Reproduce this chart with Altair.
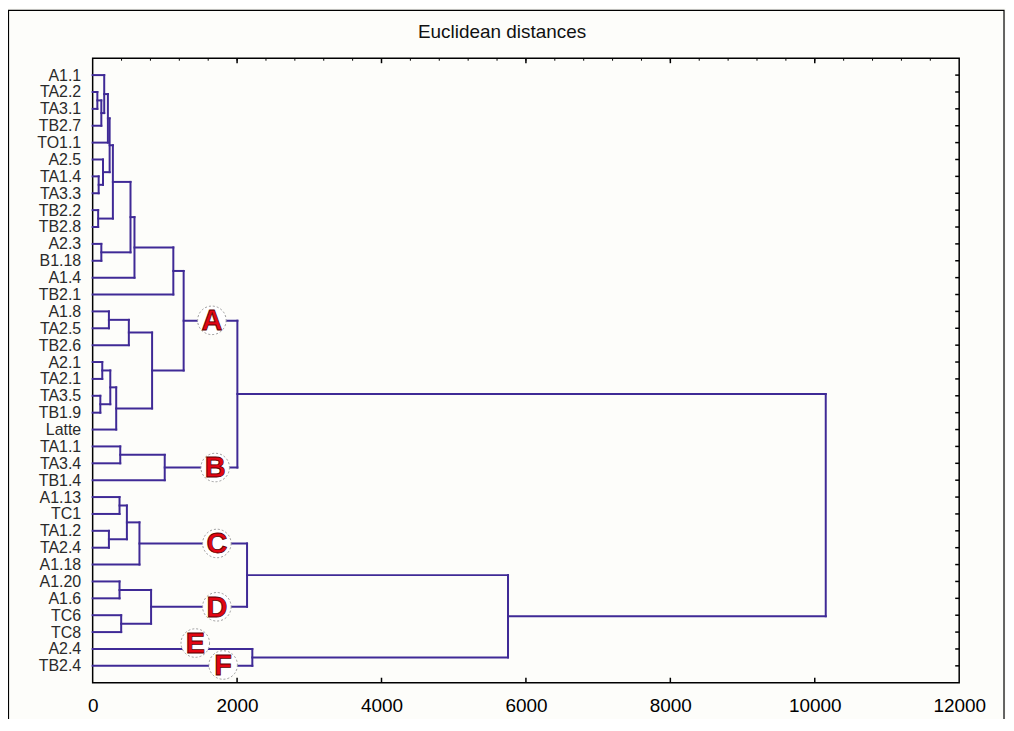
import altair as alt
import pandas as pd

# ---------------- data ----------------
leaves = ["A1.1", "TA2.2", "TA3.1", "TB2.7", "TO1.1", "A2.5", "TA1.4", "TA3.3",
          "TB2.2", "TB2.8", "A2.3", "B1.18", "A1.4", "TB2.1", "A1.8", "TA2.5",
          "TB2.6", "A2.1", "TA2.1", "TA3.5", "TB1.9", "Latte", "TA1.1", "TA3.4",
          "TB1.4", "A1.13", "TC1", "TA1.2", "TA2.4", "A1.18", "A1.20", "A1.6",
          "TC6", "TC8", "A2.4", "TB2.4"]

# merges: (left child, right child, linkage distance); "mK" = K-th merge
merge_left = ["TA2.2", "m0", "A1.1", "m2", "TA1.4", "A2.5", "m3", "TB2.2", "m6",
              "A2.3", "m8", "m10", "m11", "A1.8", "m13", "A2.1", "TA3.5", "m15",
              "m17", "m14", "m12", "TA1.1", "m21", "m20", "A1.13", "TA1.2", "m24",
              "m26", "A1.20", "TC6", "m28", "m27", "A2.4", "m31", "m23"]
merge_right = ["TA3.1", "TB2.7", "m1", "TO1.1", "TA3.3", "m4", "m5", "TB2.8", "m7",
               "B1.18", "m9", "A1.4", "TB2.1", "TA2.5", "TB2.6", "TA2.1", "TB1.9", "m16",
               "Latte", "m18", "m19", "TA3.4", "TB1.4", "m22", "TC1", "TA2.4", "m25",
               "A1.18", "A1.6", "TC8", "m29", "m30", "TB2.4", "m32", "m33"]
merge_height = [65, 120, 160, 211, 83, 143, 235, 76, 280,
                120, 524, 579, 1117, 225, 501, 133, 106, 244,
                326, 823, 1260, 382, 998, 2004, 372, 225, 474,
                648, 372, 395, 809, 2138, 2211, 5752, 10152]

# group labels (letter, distance, leaf-row position)
group_text = ["A", "B", "C", "D", "E", "F"]
group_x = [1651, 1697, 1720, 1720, 1421, 1807]
group_y = [14.53, 23.25, 27.75, 31.5, 33.65, 34.95]

x_ticks = [0, 2000, 4000, 6000, 8000, 10000, 12000]
x_minor = [400 * k for k in range(1, 30)]
title_text = "Euclidean distances"

# ---------------- build dendrogram segments ----------------
pos = {name: (0.0, float(i)) for i, name in enumerate(leaves)}
segs = []
for k, (a, b, h) in enumerate(zip(merge_left, merge_right, merge_height)):
    xa, ya = pos[a]
    xb, yb = pos[b]
    segs.append({"x": xa, "x2": h, "y": ya, "y2": ya})
    segs.append({"x": xb, "x2": h, "y": yb, "y2": yb})
    segs.append({"x": h, "x2": h, "y": ya, "y2": yb})
    pos[f"m{k}"] = (h, (ya + yb) / 2)
seg_df = pd.DataFrame(segs)

lab_df = pd.DataFrame({"t": group_text, "x": group_x, "y": group_y})
minor_df = pd.DataFrame({"x": x_minor})
major_df = pd.DataFrame({"x": x_ticks[1:-1]})
row_df = pd.DataFrame({"y": list(range(len(leaves)))})
one_df = pd.DataFrame({"t": [title_text]})

W, H = 870, 627
LINE = "#3f2a96"
FONT = "Liberation Sans"
BG = "#fdfdfa"

xs = alt.Scale(domain=[0, 12000], nice=False, zero=False)
ys = alt.Scale(domain=[-1, len(leaves)], reverse=True, nice=False, zero=False)
label_expr = "[" + ",".join(f"'{n}'" for n in leaves) + "][datum.value]"

ax_x = alt.Axis(
    values=x_ticks, format="d", title=None, grid=False, domain=False, ticks=False,
    labelFontSize=19, labelFont=FONT, labelColor="#000", labelPadding=14,
    labelFlush=False, labelOverlap=False)
ax_y = alt.Axis(
    values=list(range(len(leaves))), labelExpr=label_expr, title=None, grid=False,
    domain=False, ticks=False, labelFontSize=16, labelFont=FONT,
    labelColor="#2a2a2a", labelPadding=12, labelOverlap=False)

X = alt.X("x:Q", scale=xs, axis=ax_x, title=None)
Y = alt.Y("y:Q", scale=ys, axis=ax_y, title=None)

lines = alt.Chart(seg_df).mark_rule(color=LINE, strokeWidth=2, strokeCap="square").encode(
    x=X, x2="x2:Q", y=Y, y2="y2:Q")

top_minor = alt.Chart(minor_df).mark_rule(color="#000", strokeWidth=1).encode(
    x=X, y=alt.value(0), y2=alt.value(2.5))
top_major = alt.Chart(major_df).mark_rule(color="#000", strokeWidth=1.5).encode(
    x=X, y=alt.value(0), y2=alt.value(5))
bot_major = alt.Chart(major_df).mark_rule(color="#000", strokeWidth=1.5).encode(
    x=X, y=alt.value(H - 5), y2=alt.value(H))
right_ticks = alt.Chart(row_df).mark_rule(color="#000", strokeWidth=1.5).encode(
    y=Y, x=alt.value(W - 4), x2=alt.value(W))

circles = alt.Chart(lab_df).mark_point(
    shape="circle", size=820, filled=True, fill="#ffffff", fillOpacity=1,
    stroke="#999999", strokeWidth=1, strokeDash=[2, 2], opacity=1).encode(x=X, y=Y)
letters = alt.Chart(lab_df).mark_text(
    font=FONT, fontSize=29, fontWeight="bold", color="#e30613",
    stroke="#5a0000", strokeWidth=0.8, baseline="middle", align="center", dy=1).encode(
    x=X, y=Y, text="t:N")

title = alt.Chart(one_df).mark_text(
    font=FONT, fontSize=19, color="#111", align="center", baseline="middle",
    clip=False).encode(x=alt.value(W / 2 - 24), y=alt.value(-26), text="t:N")

frame = alt.Chart(one_df).mark_rect(
    filled=False, stroke="#000", strokeWidth=1.2, clip=False).encode(
    x=alt.value(-84.5), x2=alt.value(915), y=alt.value(-48), y2=alt.value(720))

chart = alt.layer(
    lines, frame, top_minor, top_major, bot_major, right_ticks, circles, letters, title
).properties(
    width=W, height=H,
    autosize=alt.AutoSizeParams(type="none"),
    padding={"left": 85, "top": 49, "right": 47, "bottom": 35},
    background=BG,
).configure_view(
    stroke="#000", strokeWidth=1.5, fill=BG
)

chart.save("out.html", embed_options={"renderer": "svg", "actions": False})
